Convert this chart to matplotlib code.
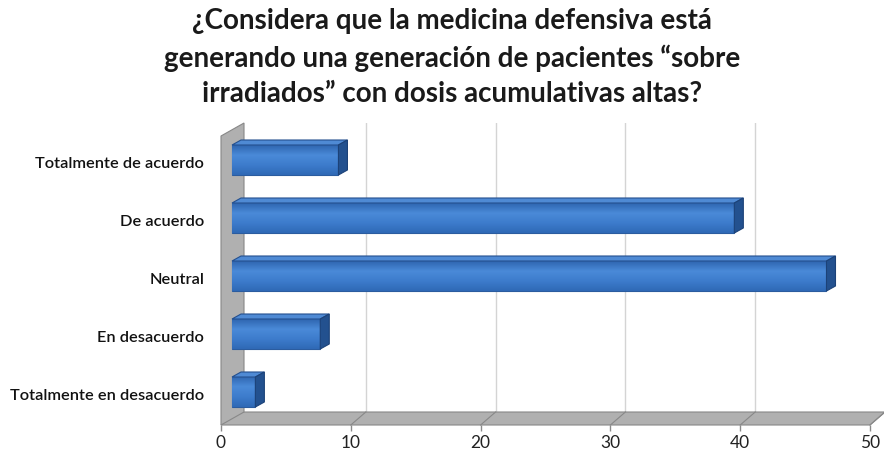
import numpy as np
import matplotlib.pyplot as plt
from matplotlib.patches import Polygon
from matplotlib.colors import LinearSegmentedColormap

plt.rcParams['font.family'] = ['Lato', 'DejaVu Sans']

categories = ["Totalmente de acuerdo", "De acuerdo", "Neutral",
              "En desacuerdo", "Totalmente en desacuerdo"]
values = [8.2, 38.7, 45.8, 6.8, 1.8]
xticks = [0, 10, 20, 30, 40, 50]
title = ("¿Considera que la medicina defensiva está\n"
         "generando una generación de pacientes “sobre\n"
         "irradiados” con dosis acumulativas altas?")

W, H = 884, 457
fig = plt.figure(figsize=(W / 100, H / 100), dpi=100)

# front plane of the plot, in pixels
x0px, x1px = 221, 870
ytop_px, ybot_px = 123, 425
row0, rowstep = 163, 58

ax = fig.add_axes([x0px / W, 1 - ybot_px / H, (x1px - x0px) / W, (ybot_px - ytop_px) / H])
xmax = xticks[-1]
ax.set_xlim(0, xmax)
ylim = ((ybot_px - row0) / rowstep, (ytop_px - row0) / rowstep)
ax.set_ylim(*ylim)
ux = (x1px - x0px) / xmax
uy = rowstep

def off(dx, dy):
    return dx / ux, dy / uy

ybottom, ytopv = ylim
ddx, ddy = off(15, -13)      # depth of the floor / back wall
wx, _ = off(23, 0)           # wall thickness
_, wtop = off(0, 13)

# floor
floor = Polygon([(0, ybottom), (xmax, ybottom), (xmax + ddx, ybottom + ddy), (ddx, ybottom + ddy)],
                closed=True, facecolor='#b0b0b0', edgecolor='#888888', lw=0.8, clip_on=False, zorder=1)
ax.add_patch(floor)
# left wall
wall = Polygon([(0, ybottom), (0, ytopv + wtop), (wx, ytopv), (wx, ybottom + ddy)],
               closed=True, facecolor='#b0b0b0', edgecolor='#888888', lw=0.8, clip_on=False, zorder=1)
ax.add_patch(wall)

# gridlines on back wall and across the floor
for v in xticks[1:-1]:
    ax.plot([v + ddx, v + ddx], [ybottom + ddy, ytopv], color='#d4d4d4', lw=1, zorder=0.5)
for v in xticks[1:]:
    ax.plot([v, v + ddx], [ybottom, ybottom + ddy], color='#888888', lw=0.8, zorder=1.5, clip_on=False)

# bars
ypos = np.arange(len(categories))
bx, by = off(11, -3)
bdx, bdy = off(9, -5)
bh = 30 / uy
bars = ax.barh(ypos + by, values, left=bx, height=bh, color='#3b7cce',
               edgecolor='#2b5c9f', lw=0.8, zorder=3)

grad = LinearSegmentedColormap.from_list('g', ['#2f66b0', '#4a8ad8', '#3d7ccc', '#2f69b6'])
gimg = np.linspace(0, 1, 64).reshape(-1, 1)
for bar, v, y in zip(bars, values, ypos + by):
    ytb = y - bh / 2
    ybb = y + bh / 2
    im = ax.imshow(gimg, extent=[bx, bx + v, ybb, ytb], cmap=grad, aspect='auto',
                   zorder=3.1, interpolation='bicubic')
    im.set_clip_path(bar)
    top = Polygon([(bx, ytb), (bx + v, ytb), (bx + v + bdx, ytb + bdy), (bx + bdx, ytb + bdy)],
                  closed=True, facecolor='#4f8ad4', edgecolor='#24508f', lw=0.8, zorder=3.2)
    side = Polygon([(bx + v, ytb), (bx + v + bdx, ytb + bdy), (bx + v + bdx, ybb + bdy), (bx + v, ybb)],
                   closed=True, facecolor='#23518f', edgecolor='#1c4278', lw=0.8, zorder=3.2)
    ax.add_patch(top)
    ax.add_patch(side)

ax.set_xlim(0, xmax)
ax.set_ylim(*ylim)

ax.set_xticks(xticks)
ax.set_xticklabels([str(t) for t in xticks], fontsize=12.5, color='#222222')
ax.set_yticks(ypos)
ax.set_yticklabels(categories, fontsize=11.8, color='#111111', weight='semibold')
ax.tick_params(axis='x', length=4, width=1, color='#8a8a8a', pad=3)
ax.tick_params(axis='y', length=0, pad=12)
for s in ax.spines.values():
    s.set_visible(False)
ax.patch.set_alpha(0)

fig.text(452 / W, 1 - 8 / H, title, ha='center', va='top', fontsize=20,
         weight='bold', color='#1a1a1a', linespacing=1.46)

fig.savefig('out.png', dpi=100)
